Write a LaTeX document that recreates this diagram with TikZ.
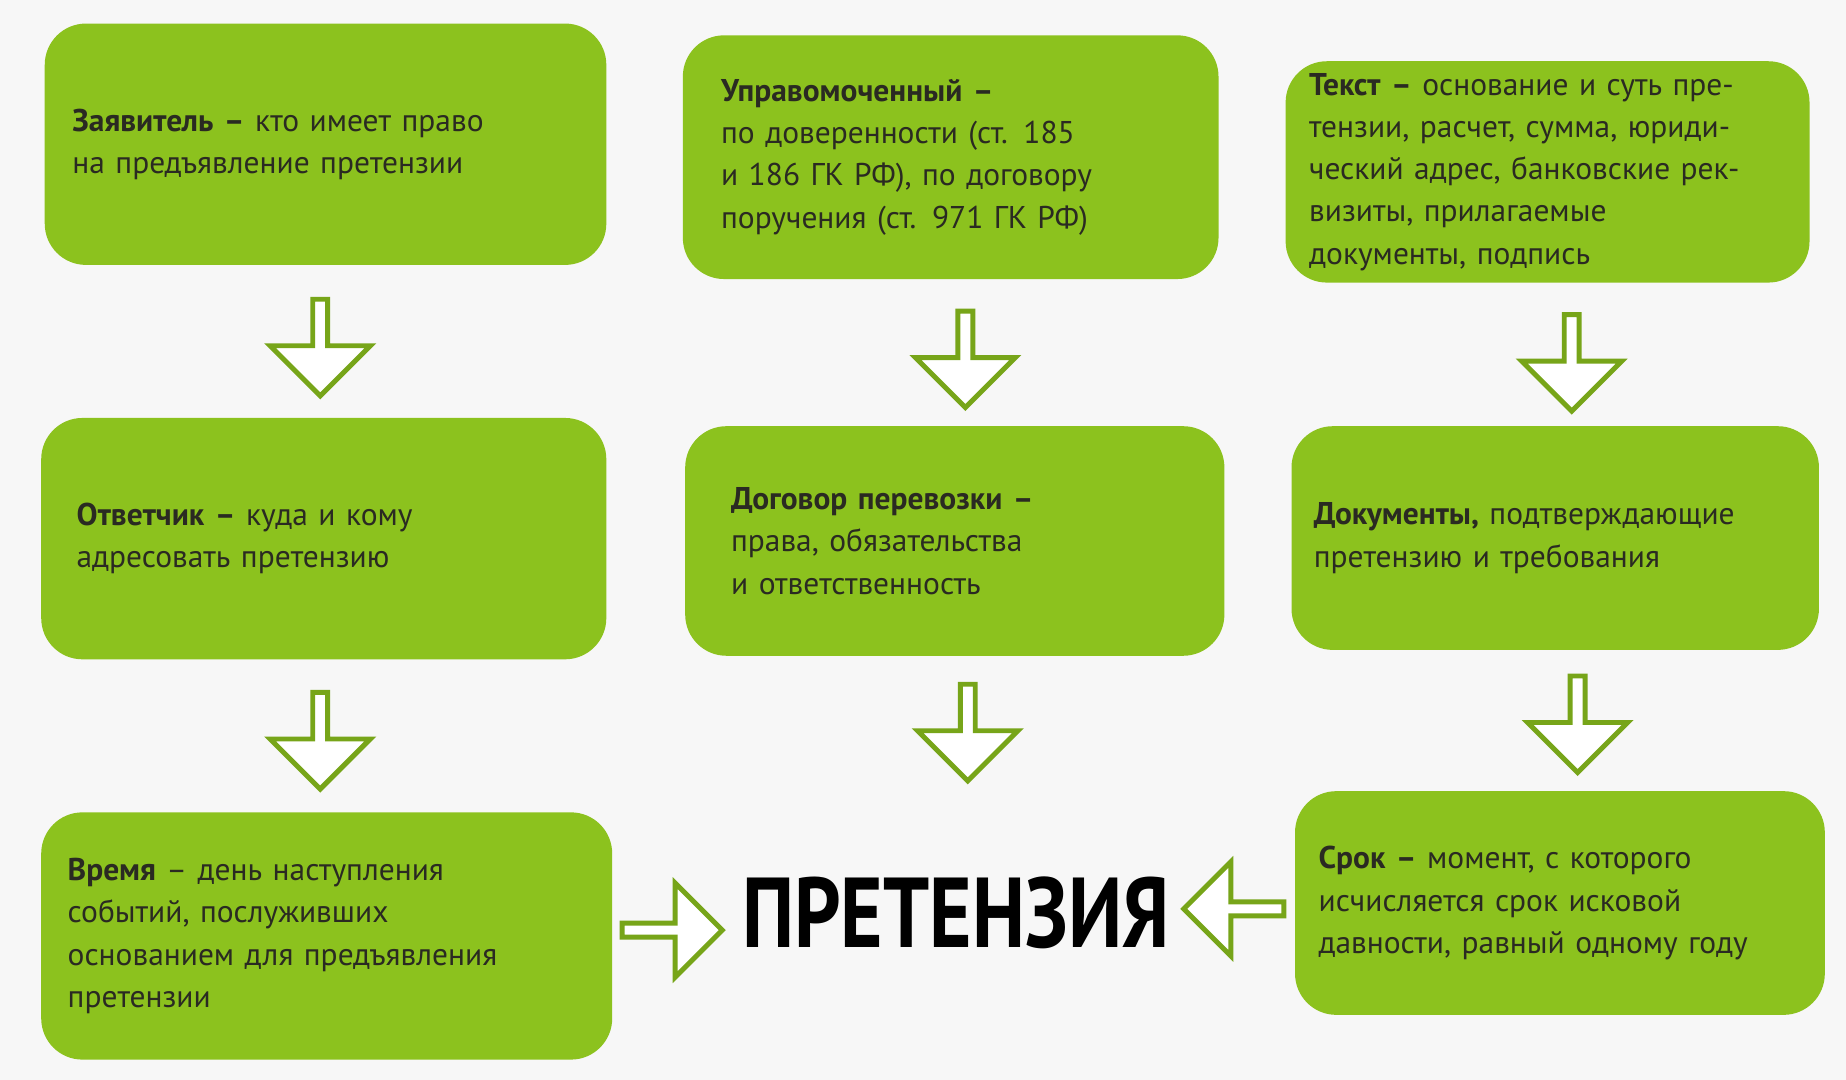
\documentclass[tikz,border=0pt]{standalone}
\usepackage{fontspec}
\setmainfont{PT Sans}
\usetikzlibrary{shapes.arrows}
\definecolor{lime}{HTML}{8CC21E}
\definecolor{ink}{HTML}{2A2A22}
\begin{document}
\begin{tikzpicture}[
    box/.style={fill=lime, rounded corners=0.35cm, text=ink, align=left, font=\fontsize{7.6}{10.2}\selectfont, inner sep=0pt},
    down/.style={single arrow, draw=lime!85!black, fill=white, line width=1.2pt, rotate=-90, minimum height=0.82cm, minimum width=0.85cm, single arrow head extend=0.12cm, inner sep=0pt},
    side/.style={single arrow, draw=lime!85!black, fill=white, line width=1.2pt, minimum height=0.85cm, minimum width=0.8cm, single arrow head extend=0.12cm, inner sep=0pt}
  ]
  \fill[white!94!gray] (0,0) rectangle (15.68,-9.17);
  \useasboundingbox (0,0) rectangle (15.68,-9.17);

  % Top row
  \node[box, minimum width=4.77cm, minimum height=2.05cm, text width=4.3cm] (zayav) at (2.765,-1.225) {\textbf{Заявитель –} кто имеет право\\на предъявление претензии};
  \node[box, minimum width=4.55cm, minimum height=2.07cm, text width=3.9cm] (upr) at (8.075,-1.335) {\textbf{Управомоченный –}\\по доверенности (ст. 185\\и 186 ГК РФ), по договору\\поручения (ст. 971 ГК РФ)};
  \node[box, minimum width=4.45cm, minimum height=1.88cm, text width=4.05cm] (tekst) at (13.145,-1.46) {\textbf{Текст –} основание и суть пре-\\тензии, расчет, сумма, юриди-\\ческий адрес, банковские рек-\\визиты, прилагаемые\\документы, подпись};

  % Middle row
  \node[box, minimum width=4.8cm, minimum height=2.05cm, text width=4.2cm] (otv) at (2.75,-4.575) {\textbf{Ответчик –} куда и кому\\адресовать претензию};
  \node[box, minimum width=4.58cm, minimum height=1.95cm, text width=3.8cm] (dog) at (8.11,-4.595) {\textbf{Договор перевозки –}\\права, обязательства\\и ответственность};
  \node[box, minimum width=4.48cm, minimum height=1.9cm, text width=4.1cm] (dok) at (13.21,-4.57) {\textbf{Документы,} подтверждающие\\претензию и требования};

  % Bottom row
  \node[box, minimum width=4.85cm, minimum height=2.1cm, text width=4.4cm] (vremya) at (2.775,-7.95) {\textbf{Время} – день наступления\\событий, послуживших\\основанием для предъявления\\претензии};
  \node[box, minimum width=4.5cm, minimum height=1.9cm, text width=4.1cm] (srok) at (13.25,-7.67) {\textbf{Срок –} момент, с которого\\исчисляется срок исковой\\давности, равный одному году};

  \node[font=\bfseries\fontsize{24}{28}\selectfont, text=black, xscale=0.82, transform shape] (pret) at (8.12,-7.75) {ПРЕТЕНЗИЯ};

  % Arrows
  \node[down] (a1) at (2.72,-2.92) {};
  \node[down] (a2) at (8.2,-3.02) {};
  \node[down] (a3) at (13.35,-3.05) {};
  \node[down] (a4) at (2.72,-6.26) {};
  \node[down] (a5) at (8.22,-6.19) {};
  \node[down] (a6) at (13.4,-6.12) {};
  \node[side] (a7) at (5.68,-7.9) {};
  \node[side, shape border rotate=180] (a8) at (10.51,-7.72) {};
\end{tikzpicture}
\end{document}
